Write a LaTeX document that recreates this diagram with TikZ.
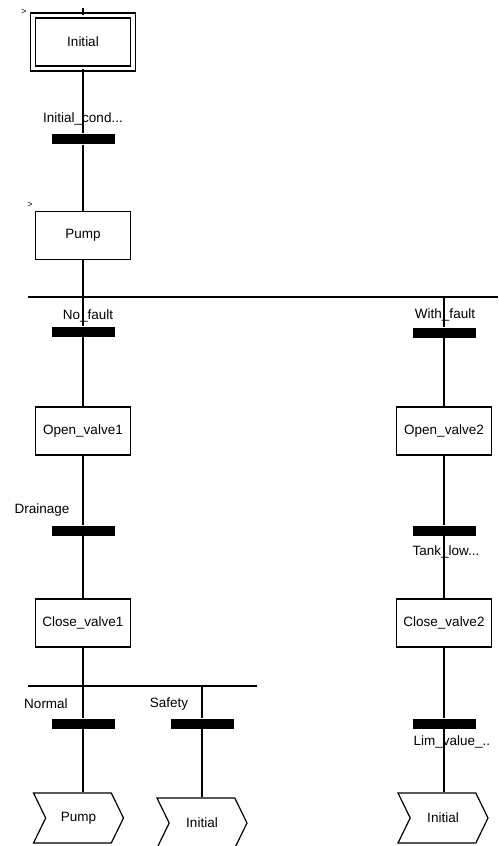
\documentclass[tikz,border=0pt]{standalone}
\usepackage{fontspec}
\setmainfont{Liberation Sans}
\usepackage{tikz}
\usetikzlibrary{shapes.symbols, positioning}

\begin{document}
\begin{tikzpicture}[
    x=1pt, y=-1pt,
    line width=1.2pt,
    base/.style={font=\fontsize{13.5pt}{15pt}\selectfont},
    stepbox/.style={base, draw, fill=white, minimum width=95, minimum height=48, inner sep=0pt},
    initbox/.style={base, draw, fill=white, double, double distance=3.8pt, minimum width=100.5, minimum height=53, inner sep=0pt},
    bar/.style={fill=black, minimum width=63, minimum height=10, inner sep=0pt},
    jump/.style={base, draw, fill=white, signal, signal from=west, signal to=east, signal pointer angle=128, minimum width=90, minimum height=50, inner sep=0pt},
    cond/.style={base, inner sep=0pt},
    tick/.style={font=\fontsize{9pt}{9pt}\selectfont, inner sep=0pt}
]
    \useasboundingbox (0,0) rectangle (498,846);

    % --- INITIAL STEP ---
    \node[initbox] (init) at (83, 42) {Initial};
    \node[tick] (init_tick) at (24, 12) {>};
    \coordinate (top) at (83, 8);
    \draw (top) -- (init.north);

    \node[bar] (t_init) at (83, 139) {};
    \node[cond] (c_init) at (83, 119) {Initial\_cond...};
    \draw (init.south) -- (t_init.north);

    \node[stepbox] (pump) at (83, 235.5) {Pump};
    \node[tick] (pump_tick) at (30, 205) {>};
    \draw (t_init.south) -- (pump.north);

    % --- DIVERGENCE: FAULT / NO FAULT ---
    \coordinate (div1L) at (28, 297);
    \coordinate (div1R) at (498, 297);
    \draw (div1L) -- (div1R);

    % left branch
    \node[bar] (t_nofault) at (83, 331.5) {};
    \node[cond] (c_nofault) at (88, 316) {No\_fault};
    \draw (pump.south) -- (t_nofault.north);

    \node[stepbox] (open1) at (83, 431) {Open\_valve1};
    \draw (t_nofault.south) -- (open1.north);

    \node[bar] (t_drain) at (83, 530.5) {};
    \node[cond] (c_drain) at (42, 510) {Drainage};
    \draw (open1.south) -- (t_drain.north);

    \node[stepbox] (close1) at (83, 623) {Close\_valve1};
    \draw (t_drain.south) -- (close1.north);

    % right branch
    \node[bar] (t_fault) at (444, 332.5) {};
    \node[cond] (c_fault) at (445, 315) {With\_fault};
    \draw (t_fault.north |- div1L) -- (t_fault.north);

    \node[stepbox] (open2) at (444, 431) {Open\_valve2};
    \draw (t_fault.south) -- (open2.north);

    \node[bar] (t_tank) at (444, 530.5) {};
    \node[cond, anchor=west] (c_tank) at (412, 552) {Tank\_low...};
    \draw (open2.south) -- (t_tank.north);

    \node[stepbox] (close2) at (444, 623) {Close\_valve2};
    \draw (t_tank.south) -- (close2.north);

    \node[bar] (t_lim) at (444, 723.5) {};
    \node[cond, anchor=west] (c_lim) at (413, 742) {Lim\_value\_..};
    \draw (close2.south) -- (t_lim.north);

    % --- DIVERGENCE: NORMAL / SAFETY ---
    \coordinate (div2L) at (28, 686);
    \coordinate (div2R) at (257, 686);
    \draw (div2L) -- (div2R);

    \node[bar] (t_normal) at (83, 723.5) {};
    \node[cond] (c_normal) at (46, 704) {Normal};
    \draw (close1.south) -- (t_normal.north);

    \node[bar] (t_safety) at (202, 723.5) {};
    \node[cond] (c_safety) at (169, 704) {Safety};
    \draw (t_safety.north |- div2L) -- (t_safety.north);

    % --- JUMPS ---
    \node[jump] (j_pump) at (78.5, 818) {Pump};
    \draw (t_normal.south) -- (j_pump.north -| t_normal);

    \node[jump] (j_init1) at (202, 823) {Initial};
    \draw (t_safety.south) -- (j_init1.north);

    \node[jump] (j_init2) at (443, 818) {Initial};
    \draw (t_lim.south) -- (j_init2.north -| t_lim);

\end{tikzpicture}
\end{document}
